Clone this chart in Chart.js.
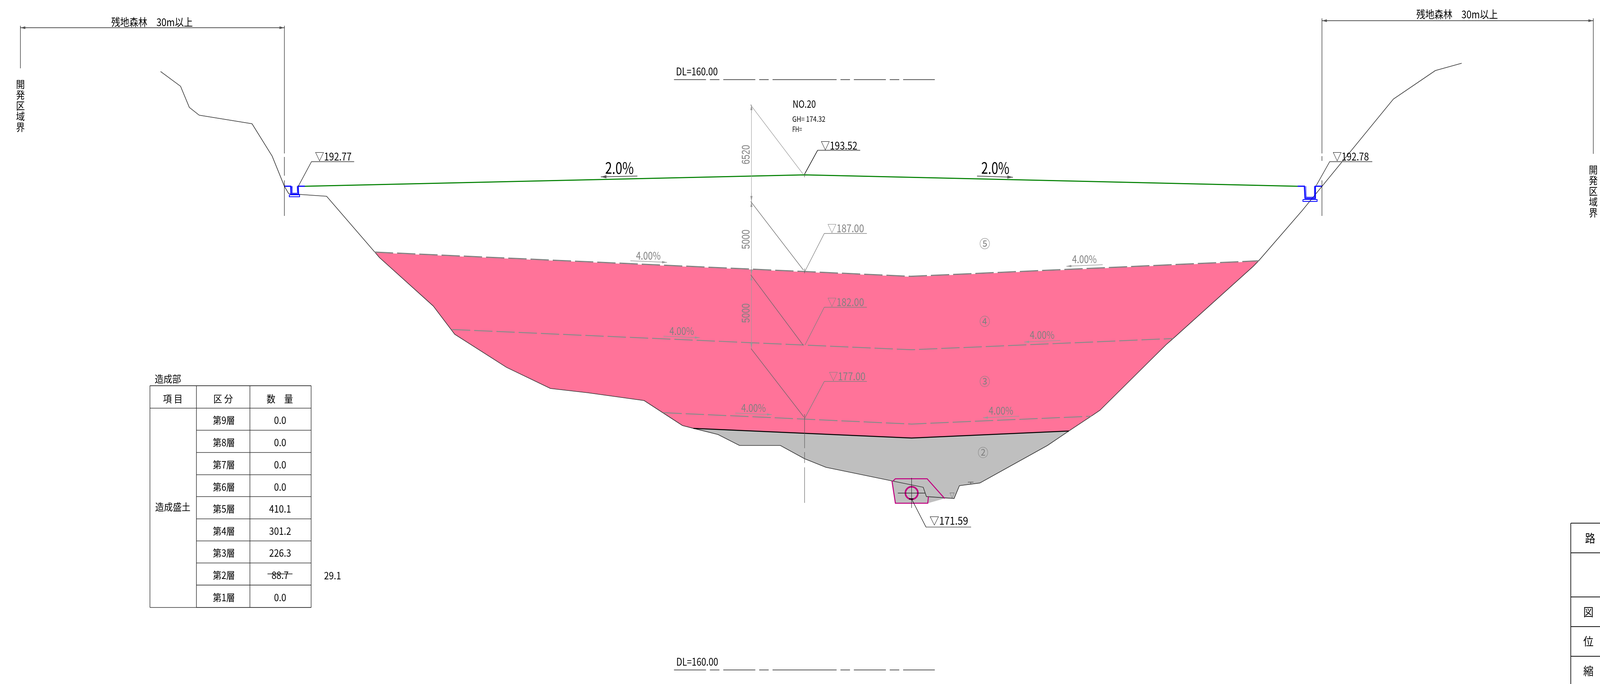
<!DOCTYPE html>
<html lang="ja">
<head>
<meta charset="utf-8">
<title>造成断面図 NO.20</title>
<script src="https://cdn.jsdelivr.net/npm/chart.js@4/dist/chart.umd.min.js"></script>
<style>html,body{margin:0;padding:0;background:#fff;overflow:hidden}canvas{display:block}</style>
</head>
<body>
<canvas id="c"></canvas>
<script>
// ---- Section data: [offset from centre line (m), elevation (m)] ----
const groundProfile = [[-48.37,200.52],[-46.87,199.52],[-46.21,198.09],[-45.47,197.56],[-41.50,196.98],[-39.99,194.79],[-39.07,192.75],[-38.75,192.25],[-35.90,192.07],[-32.28,188.29],[-31.93,187.92],[-27.89,184.64],[-26.28,182.73],[-22.39,180.49],[-19.09,179.06],[-16.28,178.77],[-12.05,178.24],[-9.17,176.55],[-8.35,176.36],[-6.50,175.94],[-4.89,175.20],[-1.82,175.20],[0,174.30],[1.61,173.72],[6.56,172.80],[8.91,172.37],[9.15,171.74],[11.23,171.61],[11.63,172.48],[13.16,172.66],[18.24,175.20],[19.85,176.18],[21.62,177.24],[22.18,177.58],[27.15,182.02],[27.68,182.44],[33.70,187.33],[34.10,187.70],[37.38,191.11],[44.22,198.65],[47.37,200.58],[49.35,201.08]];
const pinkFill = [[-32.28,188.29],[7.98,186.65],[34.10,187.70],[33.70,187.33],[27.68,182.44],[27.15,182.02],[22.18,177.58],[21.62,177.24],[19.85,176.18],[8.04,175.70],[-8.35,176.36],[-9.17,176.55],[-12.05,178.24],[-16.28,178.77],[-19.09,179.06],[-22.39,180.49],[-26.28,182.73],[-27.89,184.64],[-31.93,187.92]];
const greyFill = [[-8.35,176.36],[8.04,175.70],[19.85,176.18],[18.24,175.20],[13.16,172.66],[11.63,172.48],[11.23,171.61],[10.52,171.61],[9.25,171.29],[6.82,171.29],[6.56,172.80],[1.61,173.72],[0,174.30],[-1.82,175.20],[-4.89,175.20],[-6.50,175.94]];
const roadSurface = [[-37.56,192.75],[0,193.52],[37.03,192.75]];
const layer187 = [[-32.28,188.29],[7.98,186.65],[34.10,187.70]];
const layer182 = [[-26.49,183.05],[8.04,181.68],[27.68,182.44]];
const layer177 = [[-10.60,177.42],[8.04,176.65],[21.54,177.18]];
const layerBase = [[-8.35,176.36],[8.04,175.70],[19.85,176.18]];
const drainLeftOuter = [[-39.07,192.75],[-38.59,192.75],[-38.57,192.20],[-38.01,192.20],[-38.04,192.75],[-37.54,192.75]];
const drainLeftInner = [[-38.51,192.75],[-38.49,192.28],[-38.09,192.28],[-38.11,192.75]];
const drainLeftBase = [[-38.70,192.17],[-37.93,192.17],[-37.93,192.04],[-38.70,192.04],[-38.70,192.17]];
const drainRightOuter = [[37.03,192.75],[37.54,192.75],[37.59,191.93],[38.36,191.93],[38.36,192.75],[38.88,192.75]];
const drainRightInner = [[37.64,192.75],[37.67,192.01],[38.28,192.01],[38.29,192.75]];
const drainRightBase = [[37.43,191.85],[38.49,191.85],[38.49,191.72],[37.43,191.72],[37.43,191.85]];
const pipeBedLower = [[6.56,172.80],[6.82,171.29],[9.25,171.29],[9.30,171.74]];
const pipeBedUpper = [[6.65,172.80],[6.82,172.95],[9.20,172.95],[10.52,171.61]];
const pipeCentre = [[8.04,171.98]];

// ---- Quantity table ----
const tableItem = '造成盛土';
const layerNames = ['第9層','第8層','第7層','第6層','第5層','第4層','第3層','第2層','第1層'];
const layerVolumes = ['0.0','0.0','0.0','0.0','410.1','301.2','226.3','88.7','0.0'];
const correctedVolume = '29.1';
const titleBlock = ['路','図','位','縮'];

const toPts = a => a.map(([x,y]) => ({x,y}));
const PINK = '#FF7399', GREY = '#BFBFBF', BLUE = '#0000FF', GREEN = '#008000', MAG = '#C0007F';
const LINE = (data, color, width, extra) => Object.assign({
  data: toPts(data), showLine:true, borderColor:color, borderWidth:width,
  pointRadius:0, tension:0, fill:false, clip:false
}, extra||{});

const JP = '"Noto Sans CJK JP"';
function drawing(ctx){
  const T = (s,x,y,size,w,color,font) => {
    ctx.fillStyle = color||'#000';
    ctx.font = size+'px '+(font||JP);
    ctx.textAlign='center'; ctx.textBaseline='middle';
    if(w) ctx.fillText(s,x,y,w); else ctx.fillText(s,x,y);
  };
  const L = (pts,color,lw,dash) => {
    ctx.beginPath(); ctx.strokeStyle=color||'#000'; ctx.lineWidth=lw||1.5;
    ctx.setLineDash(dash||[]);
    pts.forEach((p,i)=> i?ctx.lineTo(p[0],p[1]):ctx.moveTo(p[0],p[1]));
    ctx.stroke(); ctx.setLineDash([]);
  };
  const A = (x0,y0,x1,y1,color,lw,len,wid) => {
    L([[x0,y0],[x1,y1]],color,lw);
    const a=Math.atan2(y1-y0,x1-x0); len=len||14; wid=wid||3.5;
    ctx.beginPath(); ctx.fillStyle=color;
    ctx.moveTo(x1,y1);
    ctx.lineTo(x1-len*Math.cos(a)-wid*Math.sin(a),y1-len*Math.sin(a)+wid*Math.cos(a));
    ctx.lineTo(x1-len*Math.cos(a)+wid*Math.sin(a),y1-len*Math.sin(a)-wid*Math.cos(a));
    ctx.closePath(); ctx.fill();
  };
  const V = (s,x,y0,step,size,wd) => [...s].forEach((c,i)=>T(c,x,y0+step*i,size,wd));
  const G='#808080', K='#000', D='#333';

  // site boundary dimensions
  L([[58,71],[808,71]],'#555',2); A(90,71,58,71,'#555',1,14,3.5); A(780,71,808,71,'#555',1,14,3.5);
  L([[58,66],[58,175]],K,1.2); L([[808,66],[808,393]],K,1.2); L([[808,402],[808,450]],K,1.2); L([[808,462],[808,553]],K,1.2);
  T('残地森林　30m以上',432,57,27,232);
  V('開発区域界',58,216,27.5,26,25);
  L([[3756,53],[4527,53]],'#555',2); A(3780,53,3756,53,'#555',1,14,3.5); A(4500,53,4527,53,'#555',1,14,3.5);
  L([[3756,47],[3756,393]],K,1.2); L([[3756,400],[3756,412]],K,1.2); L([[3756,462],[3756,553]],K,1.2); L([[4527,47],[4527,394]],K,1.2);
  T('残地森林　30m以上',4140,37,27,232);
  V('開発区域界',4527,435,27.5,26,25);

  // elevation call-outs
  L([[847,478],[885,414],[1006,414]],D,1.5); L([[885,414],[1006,414]],'#777',2.5);
  T('▽192.77',947,401,27,104);
  L([[3740,475],[3778,414],[3899,414]],D,1.5); L([[3778,414],[3899,414]],'#777',2.5);
  T('▽192.78',3838,401,27,103);
  L([[2286,446],[2323,385],[2444,385]],K,1.5); L([[2323,385],[2444,385]],'#777',2.5);
  T('▽193.52',2384,373,27,104);
  L([[2287,695],[2342,598],[2463,598]],G,1.5); T('▽187.00',2403,585,27,104,G);
  L([[2287,884],[2342,787],[2463,787]],G,1.5); T('▽182.00',2403,774,27,104,G);
  L([[2286,1072],[2342,977],[2463,977]],G,1.5); T('▽177.00',2407,964,27,104,G);
  L([[2590,1278],[2631,1350],[2759,1350]],K,1.3); L([[2631,1350],[2759,1350]],'#777',2);
  T('▽171.59',2696,1334,27,110);

  // station annotation
  T('NO.20',2285,266,26,66); T('GH= 174.32',2298,305,19,94); T('FH=',2265,331,19,28);

  // centre line
  [[445,454],[688,700],[1061,1148],[1158,1186],[1197,1288]].forEach(s=>L([[2286,s[0]],[2286,s[1]]],'#555',1.2));

  // vertical layer dimensions
  L([[2135,268],[2135,893]],'#999',1.2);
  [[290,268],[494,516],[538,516],[682,704],[726,704],[871,893]].forEach(s=>A(2135,s[0],2135,s[1],'#999',1.2,14,3));
  L([[2132,268],[2281,445]],'#999',1.2);
  L([[2133,516],[2283,692]],'#666',1.3);
  L([[2133,704],[2282,884]],'#666',1.3);
  L([[2134,893],[2284,1068]],'#666',1.3);
  const R=(s,x,y)=>{ctx.save();ctx.translate(x,y);ctx.rotate(-Math.PI/2);T(s,0,0,32,50,G,'"Liberation Sans"');ctx.restore();};
  R('6520',2121,396); R('5000',2121,613); R('5000',2121,802);

  // layer numbers
  T('⑤',2798,624,30,null,G); T('④',2798,823,30,null,G); T('③',2798,977,30,null,G); T('②',2793,1159,30,null,G);

  // slopes
  [['4.00%',1842,655,1791,668,1895,672],['4.00%',1937,848,1885,861,1988,865],['4.00%',2141,1045,2089,1058,2193,1062],
   ['4.00%',3081,664,3133,678,3030,682],['4.00%',2961,858,3013,872,2910,876],['4.00%',2844,1052,2896,1066,2793,1070]]
   .forEach(a=>{T(a[0],a[1],a[2],27,70,G);A(a[3],a[4],a[5],a[6],'#999',1.5,14,3);});
  T('2.0%',1760,430,40,81); A(1811,451,1707,453,'#555',2,16,4);
  T('2.0%',2828,430,40,80); A(2776,451,2878,454,'#555',2,16,4);

  // pipe marks
  L([[2551,1263],[2628,1263]],'#222',1.6); L([[2590,1224],[2590,1301]],'#222',1.2); L([[2583,1278],[2595,1278]],K,2.5);
  T('▽',2705,1269,17,14,'#444');
  L([[2750,1235],[2766,1235]],'#444',1.3); L([[2758,1235],[2758,1240]],'#444',1.3);

  // datum lines
  const dlDash=[91,11,27,11,91,11,27,11,182,11,27,11,91,11,27,11,91,11];
  T('DL=160.00',1980,183,27,119); L([[1915,204],[2656,204]],'#555',2,dlDash);
  T('DL=160.00',1981,1695,27,119); L([[1915,1716],[2656,1716]],'#555',2,dlDash);

  // quantity table
  const tx=[426,558,710,884], ty=[988,1045.5,1102,1159,1216,1272,1329,1385.5,1442,1498.6,1556];
  T('造成部',477,970,25,76);
  tx.forEach(x=>L([[x,988],[x,1556]],'#333',1.6));
  ty.forEach((y,i)=>L([[i<2?426:558,y],[884,y]],'#333',1.6));
  L([[426,988],[884,988]],'#333',1.6); L([[426,1556],[884,1556]],'#333',1.6);
  T('項 目',491,1021,25,62); T('区 分',634,1021,25,64); T('数　量',795,1021,25,78);
  T(tableItem,491,1298,25,104);
  layerNames.forEach((n,i)=>{
    const y=(ty[i+1]+ty[i+2])/2+3;
    T(n,636,y,25,63);
    T(layerVolumes[i],796,y,25,layerVolumes[i].length>3?66:40);
  });
  L([[760,1470],[831,1470]],K,1.5);
  T(correctedVolume,945,1474,25,50);

  // title block
  const bx=4463;
  L([[bx,1340],[bx,1752]],'#111',2);
  [1340,1416,1529,1605,1681].forEach(y=>L([[bx,y],[4546,y]],'#111',2));
  T(titleBlock[0],4518,1379,29); T(titleBlock[1],4513,1568,29); T(titleBlock[2],4513,1643,29); T(titleBlock[3],4513,1719,29);
}

// The drawing sheet is 4546 x 1752 units; fit it to the window actually given.
const SHEET_W = 4546, SHEET_H = 1752;
const cv = document.getElementById('c');
cv.width = window.innerWidth || SHEET_W;
cv.height = window.innerHeight || SHEET_H;

new Chart(cv,{
  type:'scatter',
  data:{datasets:[
    {data:toPts(pipeCentre),showLine:false,pointStyle:'circle',pointRadius:16,pointBorderWidth:4,pointBorderColor:MAG,pointBackgroundColor:'rgba(0,0,0,0)',clip:false},
    LINE(pipeBedLower,MAG,2.5),
    LINE(pipeBedUpper,MAG,2.5),
    LINE(drainLeftOuter,BLUE,3),
    LINE(drainLeftInner,BLUE,1.5),
    LINE(drainLeftBase,BLUE,2),
    LINE(drainRightOuter,BLUE,3),
    LINE(drainRightInner,BLUE,1.5),
    LINE(drainRightBase,BLUE,2),
    LINE(roadSurface,GREEN,2.8),
    LINE(layer187,'#808080',3,{borderDash:[47,10]}),
    LINE(layer187,'#FFFFFF',2.5),
    LINE(layer182,'#8A8A8A',2.5,{borderDash:[47,10]}),
    LINE(layer177,'#8A8A8A',2.5,{borderDash:[47,10]}),
    LINE(layerBase,'#000',2.5),
    LINE(groundProfile,'#333',1.6),
    LINE(pinkFill,PINK,0,{fill:'shape',backgroundColor:PINK}),
    LINE(greyFill,GREY,0,{fill:'shape',backgroundColor:GREY})
  ]},
  options:{
    responsive:false,animation:false,devicePixelRatio:1,
    layout:{padding:0,autoPadding:false},
    plugins:{legend:{display:false},tooltip:{enabled:false},title:{display:false}},
    events:[],
    scales:{
      x:{type:'linear',display:false,min:-60.43,max:59.74},
      y:{type:'linear',display:false,min:159.05,max:205.36}
    }
  },
  plugins:[{
    id:'sheet',
    beforeDraw(c){c.ctx.save();c.ctx.fillStyle='#fff';c.ctx.fillRect(0,0,c.width,c.height);c.ctx.restore();},
    afterDraw(c){c.ctx.save();c.ctx.scale(c.width/SHEET_W,c.height/SHEET_H);drawing(c.ctx);c.ctx.restore();}
  }]
});
</script>
</body>
</html>
